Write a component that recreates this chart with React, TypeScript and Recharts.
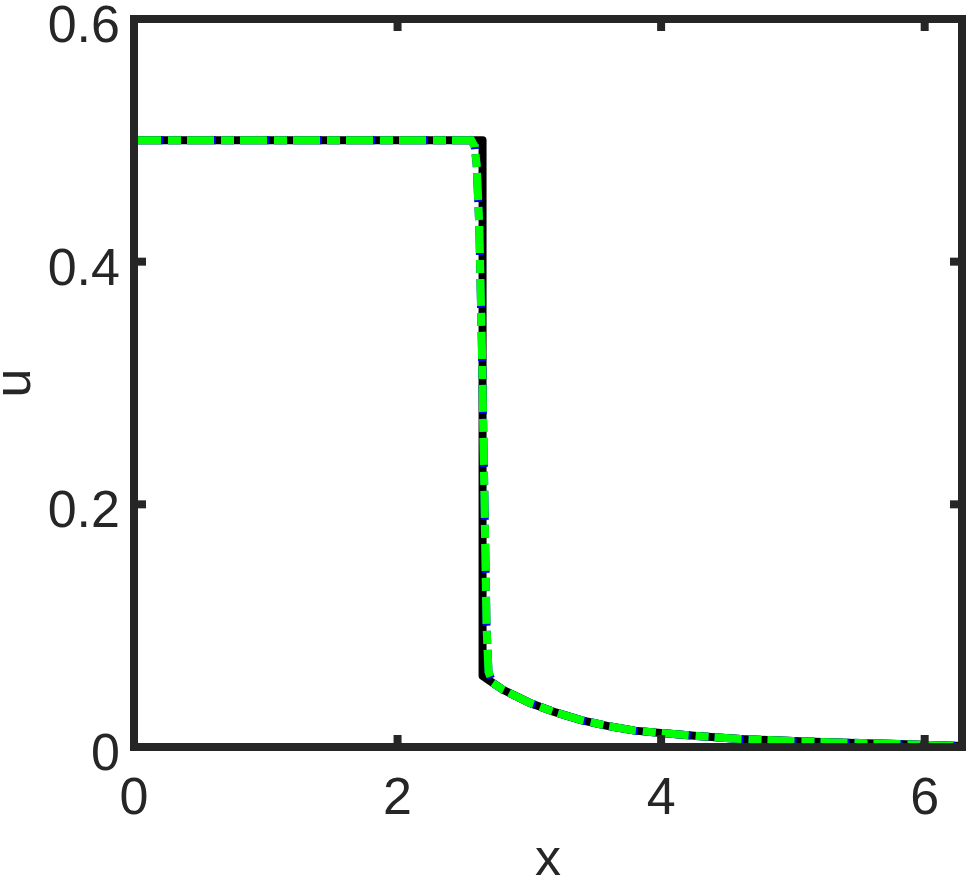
import { Line, LineChart, XAxis, YAxis } from "recharts";

// tick positions and labels
const X_TICKS = [0, 2, 4, 6];
const X_TICK_LABELS = ["0", "2", "4", "6"];
const Y_TICKS = [0, 0.2, 0.4, 0.6];
const Y_TICK_LABELS = ["0", "0.2", "0.4", "0.6"];

// exact solution (black, solid)
const exactX = [0, 2.645, 2.645, 2.7, 2.8, 3.0, 3.2, 3.4, 3.6, 3.8, 4.0, 4.3, 4.6, 5.0, 5.4, 5.8, 6.2832];
const exactU = [0.5, 0.5, 0.0585, 0.0545, 0.0472, 0.0365, 0.0285, 0.022, 0.0172, 0.0135, 0.0115, 0.0088, 0.0066, 0.0049, 0.0036, 0.0025, 0.0008];

// numerical solution (blue dashed / green dash-dot)
const numX = [0, 2.56, 2.585, 2.6, 2.62, 2.64, 2.66, 2.675, 2.69, 2.72, 2.8, 3.0, 3.2, 3.4, 3.6, 3.8, 4.0, 4.3, 4.6, 5.0, 5.4, 5.8, 6.2832];
const numU = [0.5, 0.5, 0.495, 0.48, 0.43, 0.33, 0.2, 0.1, 0.062, 0.053, 0.0472, 0.0365, 0.0285, 0.022, 0.0172, 0.0135, 0.0115, 0.0088, 0.0066, 0.0049, 0.0036, 0.0025, 0.0008];

const exactData = exactX.map((x, i) => ({ x, u: exactU[i] }));
const numData = numX.map((x, i) => ({ x, u: numU[i] }));

const INK = "#262626";
const FONT = '"Liberation Sans", Arial, Helvetica, sans-serif';
const FONT_SIZE = 52;
const TICK_LEN = 12;
const AXIS_LINE = { stroke: INK, strokeWidth: 8, strokeLinecap: "square" as const };

function BottomTick(props: any) {
  const { x, y, index } = props;
  return (
    <g>
      <line x1={x} x2={x} y1={y} y2={y - TICK_LEN} stroke={INK} strokeWidth={8} />
      <text x={x} y={y + 67} textAnchor="middle" fontSize={FONT_SIZE} fill={INK} fontFamily={FONT}>
        {X_TICK_LABELS[index]}
      </text>
    </g>
  );
}

function TopTick(props: any) {
  const { x, y } = props;
  return <line x1={x} x2={x} y1={y} y2={y + TICK_LEN} stroke={INK} strokeWidth={8} />;
}

function LeftTick(props: any) {
  const { x, y, index } = props;
  return (
    <g>
      <line x1={x} x2={x + TICK_LEN} y1={y} y2={y} stroke={INK} strokeWidth={8} />
      <text x={x - 14} y={y + 23} textAnchor="end" fontSize={FONT_SIZE} fill={INK} fontFamily={FONT}>
        {Y_TICK_LABELS[index]}
      </text>
    </g>
  );
}

function RightTick(props: any) {
  const { x, y } = props;
  return <line x1={x} x2={x - TICK_LEN} y1={y} y2={y} stroke={INK} strokeWidth={8} />;
}

export default function App() {
  return (
    <div style={{ position: "fixed", left: 0, top: 0, width: 969, height: 883, background: "#fff" }}>
      <LineChart width={969} height={883} margin={{ top: 18, right: 6, bottom: 76, left: 74 }}>
        <XAxis
          xAxisId={0}
          dataKey="x"
          type="number"
          domain={[0, 6.2832]}
          allowDataOverflow
          ticks={X_TICKS}
          interval={0}
          height={60}
          tickSize={0}
          tickMargin={0}
          tickLine={false}
          axisLine={AXIS_LINE}
          tick={BottomTick}
          label={{
            content: ({ viewBox }: any) => (
              <text
                x={viewBox.x + viewBox.width / 2}
                y={875}
                textAnchor="middle"
                fontSize={FONT_SIZE}
                fill={INK}
                fontFamily={FONT}
              >
                x
              </text>
            ),
          }}
        />
        {/* top and right copies of the axes close the box, same domains */}
        <XAxis
          xAxisId="top"
          orientation="top"
          dataKey="x"
          type="number"
          domain={[0, 6.2832]}
          allowDataOverflow
          ticks={X_TICKS}
          interval={0}
          height={1}
          tickSize={0}
          tickMargin={0}
          tickLine={false}
          axisLine={AXIS_LINE}
          tick={TopTick}
        />
        <YAxis
          yAxisId={0}
          type="number"
          domain={[0, 0.6]}
          allowDataOverflow
          ticks={Y_TICKS}
          interval={0}
          width={60}
          tickSize={0}
          tickMargin={0}
          tickLine={false}
          axisLine={AXIS_LINE}
          tick={LeftTick}
          label={{
            content: ({ viewBox }: any) => {
              const cy = viewBox.y + viewBox.height / 2;
              return (
                <text
                  x={30}
                  y={cy}
                  transform={`rotate(-90 30 ${cy})`}
                  textAnchor="middle"
                  fontSize={FONT_SIZE}
                  fill={INK}
                  fontFamily={FONT}
                >
                  u
                </text>
              );
            },
          }}
        />
        <YAxis
          yAxisId="right"
          orientation="right"
          type="number"
          domain={[0, 0.6]}
          allowDataOverflow
          ticks={Y_TICKS}
          interval={0}
          width={1}
          tickSize={0}
          tickMargin={0}
          tickLine={false}
          axisLine={AXIS_LINE}
          tick={RightTick}
        />
        <Line
          data={exactData}
          dataKey="u"
          xAxisId={0}
          yAxisId={0}
          type="linear"
          stroke="#000000"
          strokeWidth={8}
          strokeLinejoin="round"
          dot={false}
          activeDot={false}
          isAnimationActive={false}
        />
        <Line
          data={numData}
          dataKey="u"
          xAxisId="top"
          yAxisId="right"
          type="linear"
          stroke="#0000ff"
          strokeWidth={8}
          strokeDasharray="29 5 13 6"
          dot={false}
          activeDot={false}
          isAnimationActive={false}
        />
        <Line
          data={numData}
          dataKey="u"
          xAxisId="top"
          yAxisId="right"
          type="linear"
          stroke="#00ff00"
          strokeWidth={8}
          strokeDasharray="27 7 13 6"
          dot={false}
          activeDot={false}
          isAnimationActive={false}
        />
      </LineChart>
    </div>
  );
}
